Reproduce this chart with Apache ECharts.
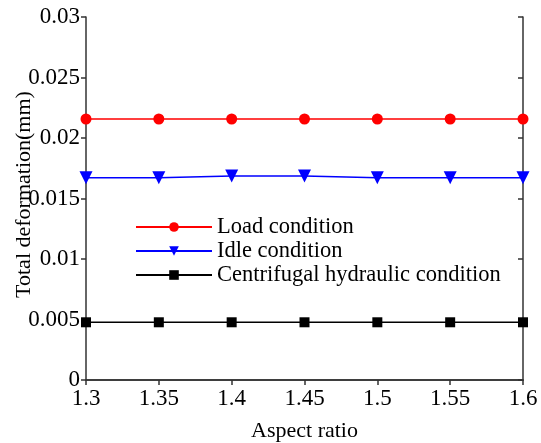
<!DOCTYPE html>
<html><head><meta charset="utf-8">
<script src="https://cdn.jsdelivr.net/npm/echarts@6/dist/echarts.min.js"></script>
<style>html,body{margin:0;padding:0;background:#fff}#c{width:541px;height:443px}</style>
</head><body><div id="c"></div>
<script>
const aspectRatio = [1.3, 1.35, 1.4, 1.45, 1.5, 1.55, 1.6];
const loadCondition = [0.02157, 0.02157, 0.02157, 0.02157, 0.02157, 0.02157, 0.02157];
const idleCondition = [0.01672, 0.01672, 0.01686, 0.01686, 0.01672, 0.01672, 0.01672];
const centrifugalCondition = [0.00477, 0.00477, 0.00477, 0.00477, 0.00477, 0.00477, 0.00477];
const seriesNames = ['Load condition', 'Idle condition', 'Centrifugal hydraulic condition'];

const font = 'Liberation Serif, Times New Roman, serif';
const axisColor = '#333';
function pairs(vals){ return aspectRatio.map((x,i)=>[x, vals[i]]); }

const chart = echarts.init(document.getElementById('c'), null, {renderer:'canvas'});
chart.setOption({
  animation:false,
  grid:{left:86, right:18, top:17, bottom:63, containLabel:false, outerBoundsMode:'none'},
  legend:{
    left:130, top:210, orient:'vertical', itemGap:0, itemWidth:76, itemHeight:12,
    textStyle:{fontFamily:font, fontSize:22.5, color:'#000', lineHeight:24},
    data:seriesNames.map(n=>({name:n}))
  },
  xAxis:[{
    type:'value', min:1.3, max:1.6, interval:0.05,
    name:'Aspect ratio', nameLocation:'middle', nameGap:40,
    nameTextStyle:{fontFamily:font, fontSize:22, color:'#000'},
    axisLine:{lineStyle:{color:axisColor, width:1.5}},
    axisTick:{inside:false, length:5, lineStyle:{color:axisColor, width:1.5}},
    axisLabel:{fontFamily:font, fontSize:23, color:'#000', margin:7,
      formatter:v=>String(parseFloat(v.toFixed(2)))},
    splitLine:{show:false}
  },{
    type:'value', position:'top', min:1.3, max:1.6, interval:0.05,
    axisLine:{lineStyle:{color:axisColor, width:1.5}},
    axisTick:{inside:true, length:5, lineStyle:{color:axisColor, width:1.5}},
    axisLabel:{show:false}, splitLine:{show:false}
  }],
  yAxis:[{
    type:'value', min:0, max:0.03, interval:0.005,
    name:'Total deformation(mm)', nameLocation:'middle', nameGap:51, nameMoveOverlap:false,
    nameTextStyle:{fontFamily:font, fontSize:22, color:'#000', padding:[0,0,0,8]},
    axisLine:{show:true, lineStyle:{color:axisColor, width:1.5}},
    axisTick:{show:true, inside:false, length:5, lineStyle:{color:axisColor, width:1.5}},
    axisLabel:{fontFamily:font, fontSize:23, color:'#000', margin:6},
    splitLine:{show:false}
  },{
    type:'value', position:'right', min:0, max:0.03, interval:0.005,
    axisLine:{show:true, lineStyle:{color:axisColor, width:1.5}},
    axisTick:{show:true, inside:true, length:5, lineStyle:{color:axisColor, width:1.5}},
    axisLabel:{show:false}, splitLine:{show:false}
  }],
  series:[
    {name:seriesNames[0], type:'line', data:pairs(loadCondition), symbol:'circle', symbolSize:11,
     lineStyle:{color:'#ff0000', width:1.5}, itemStyle:{color:'#ff0000'}},
    {name:seriesNames[1], type:'line', data:pairs(idleCondition), symbol:'triangle', symbolRotate:180, symbolSize:13,
     lineStyle:{color:'#0000ff', width:1.5}, itemStyle:{color:'#0000ff'}},
    {name:seriesNames[2], type:'line', data:pairs(centrifugalCondition), symbol:'rect', symbolSize:10,
     lineStyle:{color:'#000000', width:1.5}, itemStyle:{color:'#000000'}}
  ]
});
</script></body></html>
